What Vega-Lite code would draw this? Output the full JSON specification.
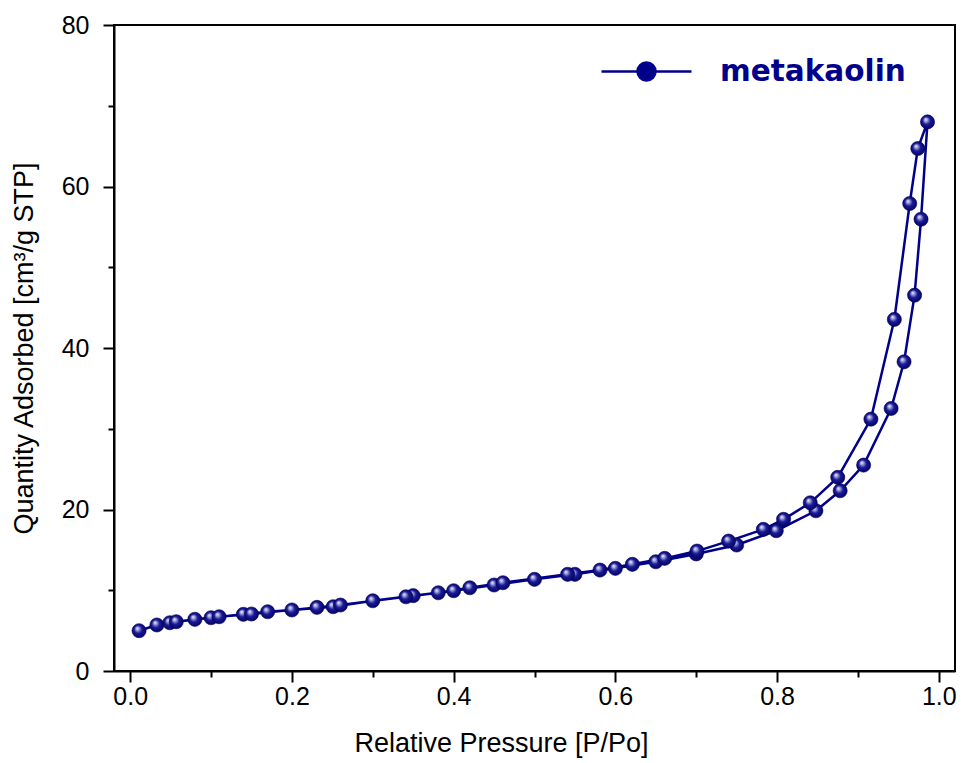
{
  "$schema": "https://vega.github.io/schema/vega-lite/v6.json",
  "width": 841,
  "height": 646,
  "autosize": {"type": "none"},
  "padding": {"left": 114, "top": 25, "right": 9, "bottom": 92},
  "background": "white",
  "config": {
    "view": {"stroke": "#000000", "strokeWidth": 2},
    "font": "Liberation Sans"
  },
  "data": {
    "values": [
      {"i": 1, "s": "metakaolin", "p": 0.011, "q": 4.99},
      {"i": 2, "s": "metakaolin", "p": 0.033, "q": 5.70},
      {"i": 3, "s": "metakaolin", "p": 0.049, "q": 5.98},
      {"i": 4, "s": "metakaolin", "p": 0.080, "q": 6.40},
      {"i": 5, "s": "metakaolin", "p": 0.100, "q": 6.60},
      {"i": 6, "s": "metakaolin", "p": 0.140, "q": 7.02},
      {"i": 7, "s": "metakaolin", "p": 0.170, "q": 7.34},
      {"i": 8, "s": "metakaolin", "p": 0.200, "q": 7.56},
      {"i": 9, "s": "metakaolin", "p": 0.251, "q": 7.96},
      {"i": 10, "s": "metakaolin", "p": 0.300, "q": 8.70},
      {"i": 11, "s": "metakaolin", "p": 0.350, "q": 9.33},
      {"i": 12, "s": "metakaolin", "p": 0.400, "q": 9.94},
      {"i": 13, "s": "metakaolin", "p": 0.450, "q": 10.65},
      {"i": 14, "s": "metakaolin", "p": 0.500, "q": 11.35},
      {"i": 15, "s": "metakaolin", "p": 0.550, "q": 11.97},
      {"i": 16, "s": "metakaolin", "p": 0.600, "q": 12.71},
      {"i": 17, "s": "metakaolin", "p": 0.650, "q": 13.53},
      {"i": 18, "s": "metakaolin", "p": 0.700, "q": 14.50},
      {"i": 19, "s": "metakaolin", "p": 0.750, "q": 15.60},
      {"i": 20, "s": "metakaolin", "p": 0.799, "q": 17.37},
      {"i": 21, "s": "metakaolin", "p": 0.848, "q": 19.84},
      {"i": 22, "s": "metakaolin", "p": 0.878, "q": 22.32},
      {"i": 23, "s": "metakaolin", "p": 0.907, "q": 25.50},
      {"i": 24, "s": "metakaolin", "p": 0.941, "q": 32.51},
      {"i": 25, "s": "metakaolin", "p": 0.957, "q": 38.29},
      {"i": 26, "s": "metakaolin", "p": 0.970, "q": 46.54},
      {"i": 27, "s": "metakaolin", "p": 0.978, "q": 55.95},
      {"i": 28, "s": "metakaolin", "p": 0.986, "q": 68.00},
      {"i": 29, "s": "metakaolin", "p": 0.974, "q": 64.70},
      {"i": 30, "s": "metakaolin", "p": 0.964, "q": 57.89},
      {"i": 31, "s": "metakaolin", "p": 0.945, "q": 43.54},
      {"i": 32, "s": "metakaolin", "p": 0.916, "q": 31.19},
      {"i": 33, "s": "metakaolin", "p": 0.875, "q": 23.98},
      {"i": 34, "s": "metakaolin", "p": 0.841, "q": 20.83},
      {"i": 35, "s": "metakaolin", "p": 0.808, "q": 18.78},
      {"i": 36, "s": "metakaolin", "p": 0.783, "q": 17.54},
      {"i": 37, "s": "metakaolin", "p": 0.740, "q": 16.09},
      {"i": 38, "s": "metakaolin", "p": 0.701, "q": 14.85},
      {"i": 39, "s": "metakaolin", "p": 0.661, "q": 13.95},
      {"i": 40, "s": "metakaolin", "p": 0.621, "q": 13.21},
      {"i": 41, "s": "metakaolin", "p": 0.581, "q": 12.50},
      {"i": 42, "s": "metakaolin", "p": 0.541, "q": 11.97},
      {"i": 43, "s": "metakaolin", "p": 0.461, "q": 10.93},
      {"i": 44, "s": "metakaolin", "p": 0.420, "q": 10.31},
      {"i": 45, "s": "metakaolin", "p": 0.381, "q": 9.69},
      {"i": 46, "s": "metakaolin", "p": 0.341, "q": 9.19},
      {"i": 47, "s": "metakaolin", "p": 0.260, "q": 8.17},
      {"i": 48, "s": "metakaolin", "p": 0.231, "q": 7.88},
      {"i": 49, "s": "metakaolin", "p": 0.150, "q": 7.06},
      {"i": 50, "s": "metakaolin", "p": 0.110, "q": 6.72},
      {"i": 51, "s": "metakaolin", "p": 0.057, "q": 6.10}
    ]
  },
  "encoding": {
    "x": {
      "field": "p",
      "type": "quantitative",
      "scale": {"domain": [-0.02, 1.02], "nice": false, "zero": false},
      "axis": {
        "values": [0, 0.1, 0.2, 0.3, 0.4, 0.5, 0.6, 0.7, 0.8, 0.9, 1.0],
        "labelExpr": "round(datum.value*10) % 2 === 0 ? format(datum.value, '.1f') : ''",
        "tickSize": {"condition": {"test": "round(datum.value*10) % 2 === 0", "value": 11}, "value": 6},
        "tickWidth": 2,
        "tickColor": "#000000",
        "domainColor": "#000000",
        "domainWidth": 2,
        "grid": false,
        "labelFontSize": 25,
        "labelColor": "#000000",
        "labelPadding": 2,
        "labelFlush": false,
        "labelOverlap": false,
        "title": "Relative Pressure [P/Po]",
        "titleFontSize": 27,
        "titleFontWeight": "normal",
        "titleColor": "#000000",
        "titleX": 387,
        "titleAlign": "center",
        "titlePadding": 21
      }
    },
    "y": {
      "field": "q",
      "type": "quantitative",
      "scale": {"domain": [0, 80], "nice": false},
      "axis": {
        "values": [0, 10, 20, 30, 40, 50, 60, 70, 80],
        "labelExpr": "datum.value % 20 === 0 ? format(datum.value, 'd') : ''",
        "tickSize": {"condition": {"test": "datum.value % 20 === 0", "value": 11}, "value": 6},
        "tickWidth": 2,
        "tickColor": "#000000",
        "domainColor": "#000000",
        "domainWidth": 2,
        "grid": false,
        "labelFontSize": 25,
        "labelColor": "#000000",
        "labelPadding": 14,
        "labelFlush": false,
        "labelOverlap": false,
        "title": "Quantity Adsorbed [cm³/g STP]",
        "titleFontSize": 27,
        "titleFontWeight": "normal",
        "titleColor": "#000000",
        "titlePadding": 23
      }
    }
  },
  "layer": [
    {
      "mark": {"type": "line", "strokeWidth": 2.5},
      "encoding": {
        "order": {"field": "i", "type": "quantitative"},
        "color": {
          "field": "s",
          "type": "nominal",
          "scale": {"range": ["#00008b"]},
          "legend": {
            "orient": "none",
            "legendX": 486,
            "legendY": 0,
            "title": null,
            "padding": 0,
            "symbolType": "M -1 0 L -0.2 0 M 0.2 0 L 1 0 M -0.2 0 A 0.2 0.2 0 1 1 0.2 0 A 0.2 0.2 0 1 1 -0.2 0 Z",
            "symbolSize": 8100,
            "symbolStrokeWidth": 2.5,
            "symbolStrokeColor": "#00008b",
            "symbolFillColor": "#00008b",
            "labelFont": "DejaVu Sans",
            "labelFontSize": 29.5,
            "labelFontWeight": "bold",
            "labelColor": "#00008b",
            "labelOffset": 27,
            "labelLimit": 400
          }
        }
      }
    },
    {
      "mark": {
        "type": "point",
        "filled": true,
        "opacity": 1,
        "size": 200,
        "stroke": "#00005a",
        "strokeWidth": 0.6,
        "fill": {
          "gradient": "radial",
          "x1": 0.36, "y1": 0.32, "r1": 0,
          "x2": 0.5, "y2": 0.5, "r2": 0.55,
          "stops": [
            {"offset": 0, "color": "#f4f4ff"},
            {"offset": 0.2, "color": "#a4a4dc"},
            {"offset": 0.5, "color": "#1a1a98"},
            {"offset": 1, "color": "#00005c"}
          ]
        }
      }
    }
  ]
}
